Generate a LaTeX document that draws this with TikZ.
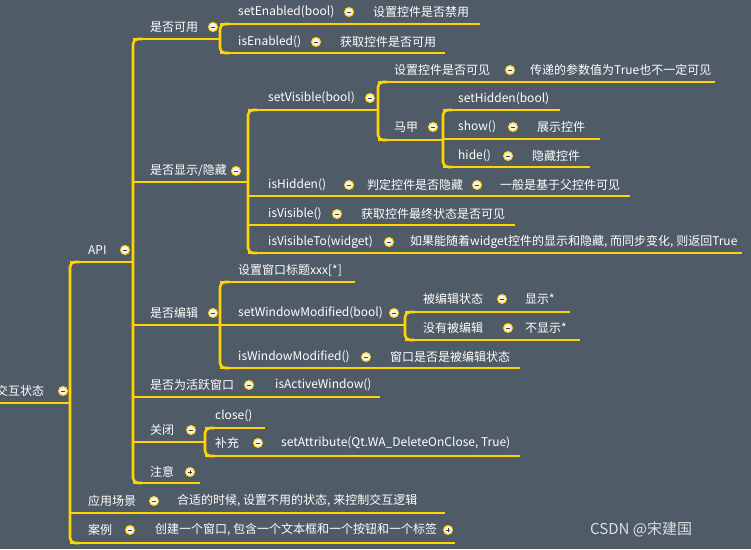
\documentclass[tikz,border=0pt]{standalone}
\usepackage{fontspec}
\setmainfont{Noto Sans CJK SC}
\begin{document}
\begin{tikzpicture}[x=1pt,y=-1pt,
  br/.style={draw=linecol,line width=2.6pt},
  bar/.style={draw=linecol,line width=2.6pt,rounded corners=5pt},
  tx/.style={anchor=west,inner sep=0pt,text=white,font=\fontsize{12}{13}\selectfont},
  ctl/.style={circle,draw=linecol,line width=1pt,fill=circfill,minimum size=9pt,inner sep=0pt},
  minus/.style={ctl,path picture={\draw[darkgray,line width=1pt] ([xshift=-2.2pt]path picture bounding box.center)--([xshift=2.2pt]path picture bounding box.center);}},
  plus/.style={ctl,path picture={\draw[darkgray,line width=1pt] ([xshift=-2.2pt]path picture bounding box.center)--([xshift=2.2pt]path picture bounding box.center) ([yshift=-2.2pt]path picture bounding box.center)--([yshift=2.2pt]path picture bounding box.center);}}]
\definecolor{bg}{HTML}{4F5B66}
\definecolor{linecol}{HTML}{FFD400}
\definecolor{circfill}{HTML}{F2F2F2}
\useasboundingbox[fill=bg] (0,0) rectangle (751,549);
\newcommand\myul[3]{\draw[br] (#1,#2) -- (#3,#2);}
\newcommand\mytx[4]{\node[tx] (#1) at (#2,#3) {#4};}
\newcommand\mym[3]{\node[minus] (#1) at (#2,#3) {};}
\newcommand\myp[3]{\node[plus] (#1) at (#2,#3) {};}
\newcommand\mybar[4]{\draw[bar] (#1+9,#2) -- (#1,#2) -- (#1,#3) -- (#1+9,#3);}
% bars
\mybar{70}{262}{543}{}
\mybar{133}{39}{483}{}
\mybar{220}{24}{53}{}
\mybar{248}{110}{253}{}
\mybar{378}{82}{140}{}
\mybar{443}{110}{167}{}
\mybar{220}{282}{368}{}
\mybar{405}{312}{340}{}
\mybar{205}{428}{456}{}
% root
\myul{-2}{403}{70}
\mytx{root}{-4}{391}{交互状态} \mym{c0}{63}{391}
\myul{70}{262}{133}
\mytx{api}{88}{250}{API} \mym{c1}{125}{250}
% 是否可用
\myul{133}{39}{220}
\mytx{a1}{150}{27}{是否可用} \mym{ca1}{213}{27}
\myul{220}{24}{480}
\mytx{a11}{238}{12}{setEnabled(bool)} \mym{ca11}{349}{12}
\mytx{a111}{373}{12}{设置控件是否禁用}
\myul{220}{53}{445}
\mytx{a12}{238}{42}{isEnabled()} \mym{ca12}{316}{42}
\mytx{a121}{340}{42}{获取控件是否可用}
% 显示/隐藏
\myul{133}{182}{248}
\mytx{a2}{150}{171}{是否显示/隐藏} \mym{ca2}{236}{171}
\myul{248}{110}{378}
\mytx{a21}{268}{98}{setVisible(bool)} \mym{ca21}{370}{98}
\myul{378}{82}{715}
\mytx{a211}{394}{70}{设置控件是否可见} \mym{ca211}{510}{70}
\mytx{a2111}{530}{70}{传递的参数值为True也不一定可见}
\myul{378}{140}{443}
\mytx{a212}{394}{127}{马甲} \mym{ca212}{433}{127}
\myul{443}{110}{560}
\mytx{a2121}{458}{99}{setHidden(bool)}
\myul{443}{139}{600}
\mytx{a2122}{458}{127}{show()} \mym{ca2122}{513}{127}
\mytx{a21221}{537}{127}{展示控件}
\myul{443}{167}{590}
\mytx{a2123}{458}{156}{hide()} \mym{ca2123}{508}{156}
\mytx{a21231}{532}{156}{隐藏控件}
\myul{248}{196}{630}
\mytx{a22}{268}{185}{isHidden()} \mym{ca22}{349}{185}
\mytx{a221}{367}{185}{判定控件是否隐藏} \mym{ca221}{477}{185}
\mytx{a2211}{500}{185}{一般是基于父控件可见}
\myul{248}{225}{515}
\mytx{a23}{268}{214}{isVisible()} \mym{ca23}{337}{214}
\mytx{a231}{361}{214}{获取控件最终状态是否可见}
\myul{248}{253}{742}
\mytx{a24}{268}{242}{isVisibleTo(widget)} \mym{ca24}{389}{242}
\mytx{a241}{410}{242}{如果能随着widget控件的显示和隐藏, 而同步变化, 则返回True}
% 编辑
\myul{133}{325}{220}
\mytx{a3}{150}{313}{是否编辑} \mym{ca3}{213}{313}
\myul{220}{282}{355}
\mytx{a31}{238}{270}{设置窗口标题xxx[*]}
\myul{220}{325}{405}
\mytx{a32}{238}{313}{setWindowModified(bool)} \mym{ca32}{394}{313}
\myul{405}{312}{570}
\mytx{a321}{423}{299}{被编辑状态} \mym{ca321}{502}{299}
\mytx{a3211}{525}{299}{显示*}
\myul{405}{340}{580}
\mytx{a322}{423}{328}{没有被编辑} \mym{ca322}{508}{328}
\mytx{a3221}{525}{328}{不显示*}
\myul{220}{368}{520}
\mytx{a33}{238}{357}{isWindowModified()} \mym{ca33}{366}{357}
\mytx{a331}{390}{357}{窗口是否是被编辑状态}
% 活跃
\myul{133}{397}{380}
\mytx{a4}{150}{385}{是否为活跃窗口} \mym{ca4}{249}{385}
\mytx{a41}{275}{385}{isActiveWindow()}
% 关闭
\myul{133}{442}{205}
\mytx{a5}{150}{430}{关闭} \mym{ca5}{191}{430}
\myul{205}{428}{265}
\mytx{a51}{215}{416}{close()}
\myul{205}{456}{520}
\mytx{a52}{215}{443}{补充} \mym{ca52}{258}{443}
\mytx{a521}{281}{443}{setAttribute(Qt.WA\_DeleteOnClose, True)}
% 注意
\myul{133}{483}{200}
\mytx{a6}{150}{472}{注意} \myp{ca6}{190}{472}
% root children
\myul{70}{513}{445}
\mytx{b1}{88}{501}{应用场景} \mym{cb1}{154}{501}
\mytx{b11}{177}{501}{合适的时候, 设置不用的状态, 来控制交互逻辑}
\myul{70}{543}{455}
\mytx{b2}{88}{530}{案例} \mym{cb2}{130}{530}
\mytx{b21}{155}{530}{创建一个窗口, 包含一个文本框和一个按钮和一个标签} \myp{cb21}{448}{530}
\node[anchor=west,inner sep=0pt,text=white!80!bg,font=\fontsize{15}{16}\selectfont] (wm) at (590,529) {CSDN @宋建国};
\end{tikzpicture}
\end{document}
